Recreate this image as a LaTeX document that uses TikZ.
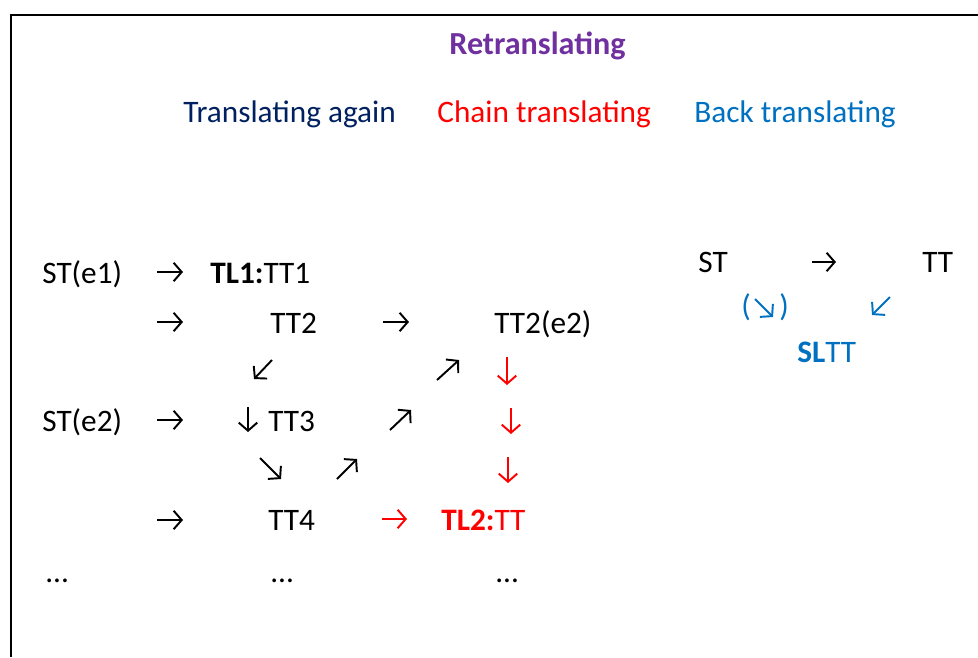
\documentclass[tikz,border=0pt]{standalone}
\usepackage{fontspec}
\setmainfont{Carlito}
\usetikzlibrary{arrows.meta}
\definecolor{retitle}{HTML}{7030A0}
\definecolor{againcol}{HTML}{002060}
\definecolor{chaincol}{HTML}{FF0000}
\definecolor{backcol}{HTML}{0070C0}
\tikzset{
x=0.02cm, y=-0.02cm, % one unit is one pixel of the slide
every node/.style={inner sep=0pt, anchor=base west, font=\fontsize{17.8}{22}\selectfont}, % text sits on its baseline
glyph/.style={line width=1.1pt, -{Straight Barb[length=4.6pt,width=10.5pt]}}, % the arrows written in the text
heading/.style={font=\fontsize{18.3}{22}\selectfont\bfseries},
}

\begin{document}
\begin{tikzpicture}
\useasboundingbox (0,0) rectangle (978,657);
\draw[line width=1.4pt] (11,657) -- (11,15) -- (978,15);

% headings
\node[heading, text=retitle] (title) at (449,54) {Retranslating};
\node[text=againcol] (again) at (183,122) {Translating again};
\node[text=chaincol] (chain) at (437,122) {Chain translating};
\node[text=backcol] (back) at (694,122) {Back translating};

% left part
\node (st1) at (42,283) {ST(e1)};
\node (tt1) at (210,283) {\textbf{TL1:}TT1};
\node (tt2) at (270,333) {TT2};
\node (tt2e) at (494,333) {TT2(e2)};
\node (st2) at (42,431) {ST(e2)};
\node (tt3) at (268,431) {TT3};
\node (tt4) at (268,530) {TT4};
\node[text=chaincol] (tl2) at (441,530) {\textbf{TL2:}TT};
\node (dots1) at (45,582) {...};
\node (dots2) at (270,582) {...};
\node (dots3) at (495,582) {...};

\draw[glyph] (157,272) -- ++(26,0);
\draw[glyph] (157,322) -- ++(26,0);
\draw[glyph] (383,322) -- ++(26,0);
\draw[glyph] (272,360) -- ++(-18,19);
\draw[glyph] (437,380) -- ++(22,-20);
\draw[glyph] (157,420) -- ++(26,0);
\draw[glyph] (248,407) -- ++(0,25);
\draw[glyph] (390,430) -- ++(21,-20);
\draw[glyph] (260,458) -- ++(21,21);
\draw[glyph] (337,479) -- ++(20,-20);
\draw[glyph] (157,520) -- ++(26,0);
\draw[glyph, chaincol] (507,357) -- ++(0,28);
\draw[glyph, chaincol] (511,408) -- ++(0,26);
\draw[glyph, chaincol] (508,457) -- ++(0,26);
\draw[glyph, chaincol] (382,519) -- ++(25,0);

% right part
\node (bst) at (698,272) {ST};
\node (btt) at (922,272) {TT};
\node[text=backcol] (bpl) at (741,316) {(};
\node[text=backcol] (bpr) at (779,316) {)};
\node[text=backcol] (sltt) at (797,362) {\textbf{SL}TT};
\draw[glyph] (812,262) -- ++(24,0);
\draw[glyph, backcol] (755,299) -- ++(18,18);
\draw[glyph, backcol] (890,297) -- ++(-18,18);
\end{tikzpicture}
\end{document}
